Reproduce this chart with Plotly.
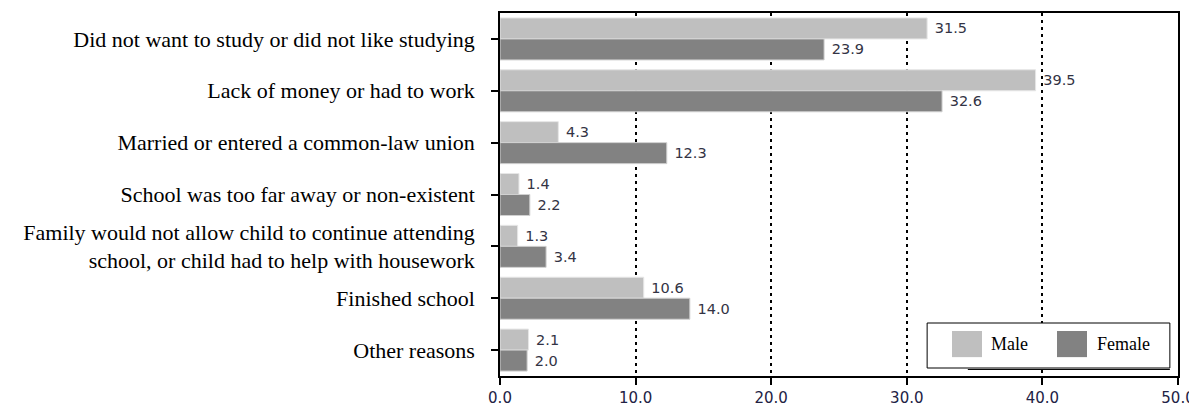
import plotly.graph_objects as go

categories = [
    "Did not want to study or did not like studying",
    "Lack of money or had to work",
    "Married or entered a common-law union",
    "School was too far away or non-existent",
    "Family would not allow child to continue attending<br>school, or child had to help with housework",
    "Finished school",
    "Other reasons",
]
male = [31.5, 39.5, 4.3, 1.4, 1.3, 10.6, 2.1]
female = [23.9, 32.6, 12.3, 2.2, 3.4, 14.0, 2.0]
x_ticks = [0, 10, 20, 30, 40, 50]
series_names = ["Male", "Female"]
series_colors = ["#BFBFBF", "#828282"]

label_font = dict(family="DejaVu Sans, Verdana", size=14.5, color="#333344")

fig = go.Figure()
for name, vals, col, edge in [(series_names[0], male, series_colors[0], "#E6E6E6"),
                              (series_names[1], female, series_colors[1], "#D0D0D0")]:
    fig.add_trace(go.Bar(
        y=categories, x=vals, orientation="h", name=name,
        marker=dict(color=col, line=dict(color=edge, width=1)),
        texttemplate=" %{x:.1f}", textposition="outside",
        textfont=label_font, cliponaxis=False, showlegend=False,
    ))

# manual legend (box + swatches + text) in plot-area coordinates
shapes = [
    dict(type="rect", xref="paper", yref="paper", x0=0.630, x1=0.988, y0=0.022, y1=0.146,
         line=dict(color="black", width=1), fillcolor="white", layer="above"),
    dict(type="line", xref="paper", yref="paper", x0=0.69, x1=0.988, y0=0.018, y1=0.018,
         line=dict(color="black", width=1), layer="above"),
]
annotations = []
sw_x = [(0.6667, 0.7109, 0.7212), (0.8215, 0.8658, 0.8776)]
for (x0, x1, tx), name, col in zip(sw_x, series_names, series_colors):
    shapes.append(dict(type="rect", xref="paper", yref="paper", x0=x0, x1=x1,
                       y0=0.052, y1=0.124, line=dict(width=0), fillcolor=col, layer="above"))
    annotations.append(dict(xref="paper", yref="paper", x=tx, y=0.089, xanchor="left",
                            yanchor="middle", text=name, showarrow=False,
                            font=dict(family="Liberation Serif, Times New Roman", size=18,
                                      color="black")))

# the page body adds an 8px offset, so the figure is sized to fit the window
fig.update_layout(
    width=1189, height=398,
    margin=dict(l=492, r=19, t=5, b=30, autoexpand=False),
    paper_bgcolor="white", plot_bgcolor="white",
    barmode="group", bargap=0.19, bargroupgap=0.0,
    showlegend=False,
    shapes=shapes, annotations=annotations,
    xaxis=dict(
        range=[0, 50], tickvals=x_ticks, tickformat=".1f", automargin=False,
        showline=True, linecolor="black", linewidth=1.5, mirror=True,
        ticks="outside", ticklen=7, tickcolor="black", tickwidth=1.5,
        showgrid=True, gridcolor="black", gridwidth=1.5, griddash="3px,4px",
        zeroline=False,
        tickfont=dict(family="DejaVu Sans, Verdana", size=15, color="#222244"),
    ),
    yaxis=dict(
        autorange="reversed", automargin=False,
        showline=True, linecolor="black", linewidth=1.5, mirror=True,
        ticks="outside", ticklen=7, tickcolor="black", tickwidth=1.5,
        ticklabelstandoff=12,
        tickfont=dict(family="Liberation Serif, Times New Roman", size=22, color="black"),
        showgrid=False,
    ),
)

fig.write_html("out.html")
